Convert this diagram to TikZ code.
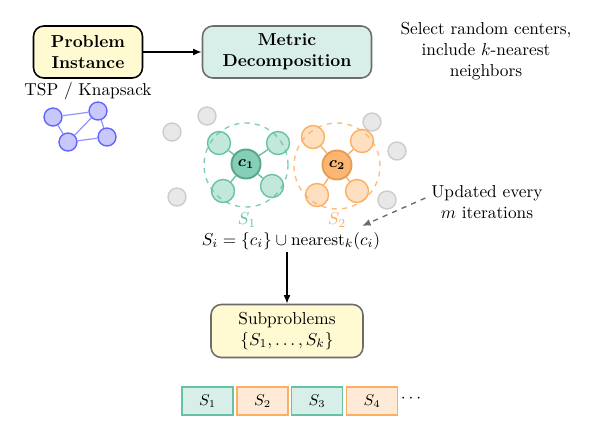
\documentclass[tikz,border=0pt]{standalone}
\usetikzlibrary{arrows.meta}
\definecolor{tealc}{RGB}{102,194,165}
\definecolor{tealfill}{RGB}{216,239,233}
\definecolor{orangec}{RGB}{252,174,97}
\definecolor{orangefill}{RGB}{254,234,214}
\definecolor{yellowfill}{RGB}{255,250,210}
\definecolor{bluec}{RGB}{100,100,255}
\definecolor{bluefill}{RGB}{200,200,255}
\begin{document}
\begin{tikzpicture}[x=0.578pt,y=-0.578pt,
  box/.style={rounded corners=6pt, align=center, inner sep=2pt},
  gnode/.style={circle, draw=gray!40, fill=gray!18, line width=0.8pt, minimum size=10.4pt, inner sep=0pt},
  bnode/.style={circle, draw=bluec, fill=bluefill, line width=0.8pt, minimum size=10.4pt, inner sep=0pt},
  bedge/.style={bluec!70, line width=0.7pt},
  tnb/.style={circle, draw=tealc, fill=tealc, fill opacity=0.4, text opacity=1, line width=0.8pt, minimum size=13.3pt, inner sep=0pt},
  onb/.style={circle, draw=orangec, fill=orangec, fill opacity=0.4, text opacity=1, line width=0.8pt, minimum size=13.3pt, inner sep=0pt},
  tctr/.style={circle, draw=tealc!85!black, fill=tealc!80, line width=1.1pt, minimum size=16.8pt, inner sep=0pt, font=\small\boldmath},
  octr/.style={circle, draw=orangec!90!black, fill=orangec!90, line width=1.1pt, minimum size=16.8pt, inner sep=0pt, font=\small\boldmath},
  tedge/.style={tealc, line width=0.8pt},
  oedge/.style={orangec, line width=0.8pt},
  sbox/.style={draw, line width=0.8pt, minimum width=29.5pt, minimum height=16.2pt, inner sep=0pt, font=\small}
]
\useasboundingbox (0,0) rectangle (598,433);

% top boxes
\node[box, draw=black, line width=0.9pt, fill=yellowfill, minimum width=109*0.578pt, minimum height=52*0.578pt, font=\bfseries] (pi) at (88,52) {Problem\\Instance};
\node[box, draw=gray!85!black, line width=0.9pt, fill=tealfill, minimum width=169*0.578pt, minimum height=52*0.578pt, font=\bfseries] (md) at (287,52) {Metric\\Decomposition};
\draw[-{Latex[length=5pt,width=4pt]}, line width=0.8pt] (pi) -- (md);

\node (tsp) at (88,91) {TSP / Knapsack};

% blue graph
\node[bnode] (b1) at (53,117) {};
\node[bnode] (b2) at (98,111) {};
\node[bnode] (b3) at (68,142) {};
\node[bnode] (b4) at (107,137) {};
\draw[bedge] (b1) -- (b2);
\draw[bedge] (b1) -- (b3);
\draw[bedge] (b3) -- (b2);
\draw[bedge] (b3) -- (b4);
\draw[bedge] (b2) -- (b4);

% gray points
\node[gnode] (g1) at (172,132) {};
\node[gnode] (g2) at (207,116) {};
\node[gnode] (g3) at (372,122) {};
\node[gnode] (g4) at (397,151) {};
\node[gnode] (g5) at (177,197) {};
\node[gnode] (g6) at (387,200) {};

% dashed cluster circles
\draw[tealc!80, dashed, line width=0.8pt] (246,165) circle[radius=42*0.578pt];
\draw[orangec!80, dashed, line width=0.8pt] (337,166) circle[radius=43*0.578pt];

% cluster 1
\node[tctr] (c1) at (246,164) {$c_1$};
\node[tnb] (t1) at (219,143) {};
\node[tnb] (t2) at (278,143) {};
\node[tnb] (t3) at (223,191) {};
\node[tnb] (t4) at (272,186) {};
\foreach \n in {t1,t2,t3,t4} \draw[tedge] (c1) -- (\n);

% cluster 2
\node[octr] (c2) at (337,165) {$c_2$};
\node[onb] (o1) at (313,137) {};
\node[onb] (o2) at (362,141) {};
\node[onb] (o3) at (317,195) {};
\node[onb] (o4) at (357,191) {};
\foreach \n in {o1,o2,o3,o4} \draw[oedge] (c2) -- (\n);

\node[text=tealc, inner sep=0.5pt] (s1) at (247,220) {$S_1$};
\node[text=orangec, inner sep=0.5pt] (s2) at (337,220) {$S_2$};

\node[inner sep=1pt] (form) at (291,241) {$S_i=\{c_i\}\cup\mathrm{nearest}_k(c_i)$};

% right texts
\node[align=center] (sel) at (486,51) {Select random centers,\\include $k$-nearest\\neighbors};
\node[align=center] (upd) at (487,202) {Updated every\\$m$ iterations};
\coordinate (tip) at (362,226);
\draw[gray!85!black, dashed, line width=0.8pt, -{Latex[length=5pt,width=4pt]}] (upd.west) ++(0,-4) coordinate (ust) (ust) -- (tip);

% subproblems
\node[box, draw=gray!85!black, line width=0.9pt, fill=yellowfill, minimum width=152*0.578pt, minimum height=53*0.578pt] (sub) at (287,331) {Subproblems\\$\{S_1,\ldots,S_k\}$};
\draw[-{Latex[length=5pt,width=4pt]}, line width=0.8pt] (form.south -| sub.north) -- (sub.north);

% bottom sequence
\node[sbox, draw=tealc, fill=tealfill] (q1) at (207.5,401) {$S_1$};
\node[sbox, draw=orangec, fill=orangefill] (q2) at (262.5,401) {$S_2$};
\node[sbox, draw=tealc, fill=tealfill] (q3) at (317,401) {$S_3$};
\node[sbox, draw=orangec, fill=orangefill] (q4) at (372,401) {$S_4$};
\node (dots) at (411,399) {$\cdots$};
\end{tikzpicture}
\end{document}
